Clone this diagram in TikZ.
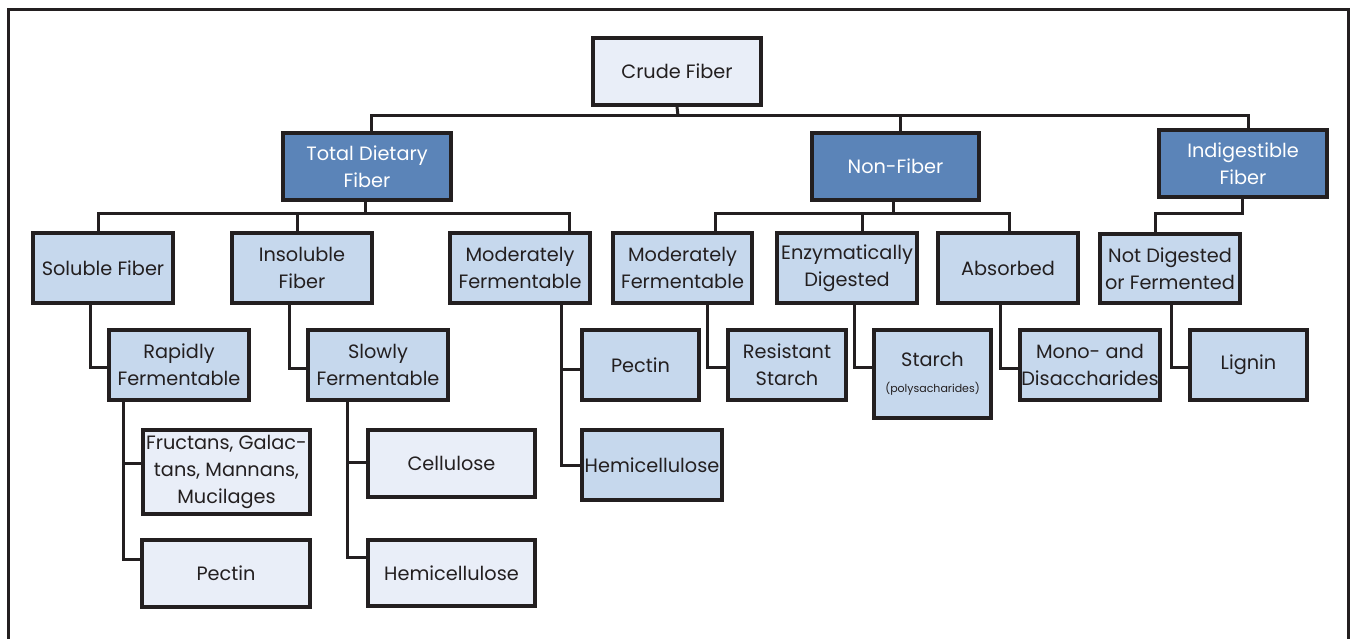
\documentclass[tikz,border=0pt]{standalone}
\usepackage{fontspec}
\setmainfont{Poppins}
\definecolor{ink}{HTML}{231F20}
\definecolor{darkb}{HTML}{5B84B8}
\definecolor{midb}{HTML}{C6D8ED}
\definecolor{paleb}{HTML}{E9EEF8}
\tikzset{
  box/.style={draw=ink, line width=3.2pt, rectangle, inner sep=0pt, align=center,
    font=\fontsize{19.3}{27}\selectfont, text=ink},
  darkbox/.style={box, fill=darkb, text=white},
  midbox/.style={box, fill=midb},
  palebox/.style={box, fill=paleb},
  conn/.style={draw=ink, line width=3pt},
}
\begin{document}
\begin{tikzpicture}[x=1pt, y=-1pt]
\useasboundingbox (0,0) rectangle (1352,639);
\fill[white] (0,0) rectangle (1352,639);
\draw[ink, line width=3pt] (8,639) -- (8,10) -- (1348,10) -- (1348,639);

% level 0
\node[palebox, minimum width=168pt, minimum height=67pt] (crude) at (677,71.5) {Crude Fiber};
% level 1
\node[darkbox, minimum width=168pt, minimum height=67pt] (tdf) at (367,166.5) {Total Dietary\\Fiber};
\node[darkbox, minimum width=167pt, minimum height=67pt] (nf) at (895.5,166.5) {Non-Fiber};
\node[darkbox, minimum width=168pt, minimum height=67pt] (ind) at (1243,163.5) {Indigestible\\Fiber};
% level 2
\node[midbox, minimum width=140pt, minimum height=70pt] (sol) at (103,268) {Soluble Fiber};
\node[midbox, minimum width=140pt, minimum height=70pt] (ins) at (302,268) {Insoluble\\Fiber};
\node[midbox, minimum width=140pt, minimum height=70pt] (mf1) at (520,268) {Moderately\\Fermentable};
\node[midbox, minimum width=139pt, minimum height=70pt] (mf2) at (682.5,268) {Moderately\\Fermentable};
\node[midbox, minimum width=140pt, minimum height=70pt] (enz) at (847,268) {Enzymatically\\Digested};
\node[midbox, minimum width=140pt, minimum height=70pt] (abs) at (1008,268) {Absorbed};
\node[midbox, minimum width=140pt, minimum height=69pt] (notd) at (1170,268.5) {Not Digested\\or Fermented};
% level 3
\node[midbox, minimum width=140pt, minimum height=70pt] (rap) at (179,365) {Rapidly\\Fermentable};
\node[midbox, minimum width=140pt, minimum height=70pt] (slo) at (378,365) {Slowly\\Fermentable};
\node[midbox, minimum width=117pt, minimum height=70pt] (pec2) at (640.5,365) {Pectin};
\node[midbox, minimum width=118pt, minimum height=70pt] (res) at (787,365) {Resistant\\Starch};
\node[midbox, minimum width=117pt, minimum height=88pt] (sta) at (932.5,374) {Starch\\[-1pt]{\fontsize{11}{14}\selectfont (polysacharides)}};
\node[midbox, minimum width=140pt, minimum height=70pt] (mono) at (1090,365) {Mono- and\\Disaccharides};
\node[midbox, minimum width=117pt, minimum height=70pt] (lig) at (1248.5,365) {Lignin};
% level 4
\node[palebox, minimum width=167pt, minimum height=84pt] (fru) at (226.5,472) {Fructans, Galac-\\tans, Mannans,\\Mucilages};
\node[palebox, minimum width=168pt, minimum height=67pt] (pec1) at (226,573.5) {Pectin};
\node[palebox, minimum width=167pt, minimum height=67pt] (cel) at (451.5,463.5) {Cellulose};
\node[palebox, minimum width=167pt, minimum height=66pt] (hem1) at (451.5,573) {Hemicellulose};
\node[midbox, minimum width=140pt, minimum height=70pt] (hem2) at (652,465) {Hemicellulose};

% connectors: level 0 -> 1
\coordinate (bus0) at (678,116);
\draw[conn] (crude.south) -- (bus0);
\draw[conn] ([xshift=4pt]tdf.north) |- (bus0) -| ([xshift=4.5pt]nf.north);
\draw[conn] (bus0) -| ([xshift=5pt]ind.north);
% TDF -> level 2
\coordinate (bus1) at (365,214);
\draw[conn] ([xshift=-2pt]tdf.south) -- (bus1);
\draw[conn] ([xshift=-5pt]sol.north) |- (bus1) -| ([xshift=49pt]mf1.north);
\draw[conn] ([xshift=-5pt]ins.north) -- ([xshift=-5pt]ins.north |- bus1);
% NF -> level 2
\coordinate (bus2) at (893,214);
\draw[conn] ([xshift=-2.5pt]nf.south) -- (bus2);
\draw[conn] ([xshift=32.5pt]mf2.north) |- (bus2) -| ([xshift=1pt]abs.north);
\draw[conn] ([xshift=15pt]enz.north) -- ([xshift=15pt]enz.north |- bus2);
% Ind -> Not digested
\draw[conn] ([xshift=-15pt]notd.north) |- (1242,214) -- ([xshift=-1pt]ind.south);
% level 2 -> 3
\draw[conn] ([xshift=-13pt]sol.south) |- ([yshift=-2pt]rap.west);
\draw[conn] ([xshift=-13pt]ins.south) |- ([yshift=-3pt]slo.west);
\draw[conn] ([xshift=41pt]mf1.south) |- (hem2.west);
\draw[conn] ([yshift=-4pt]pec2.west) -| ([xshift=41pt]mf1.south);
\draw[conn] ([xshift=24.5pt]mf2.south) |- ([yshift=-2pt]res.west);
\draw[conn] ([xshift=7pt]enz.south) |- ([yshift=7pt]sta.west);
\draw[conn] ([xshift=-8pt]abs.south) |- ([yshift=-3pt]mono.west);
\draw[conn] ([xshift=1pt]notd.south) |- ([yshift=-2pt]lig.west);
% level 3 -> 4
\draw[conn] ([xshift=-56pt]rap.south) |- ([yshift=14pt]pec1.west);
\draw[conn] ([yshift=9pt]fru.west) -| ([xshift=-56pt]rap.south);
\draw[conn] ([xshift=-31pt]slo.south) |- ([yshift=16pt]hem1.west);
\draw[conn] ([yshift=1pt]cel.west) -| ([xshift=-31pt]slo.south);
\end{tikzpicture}
\end{document}
